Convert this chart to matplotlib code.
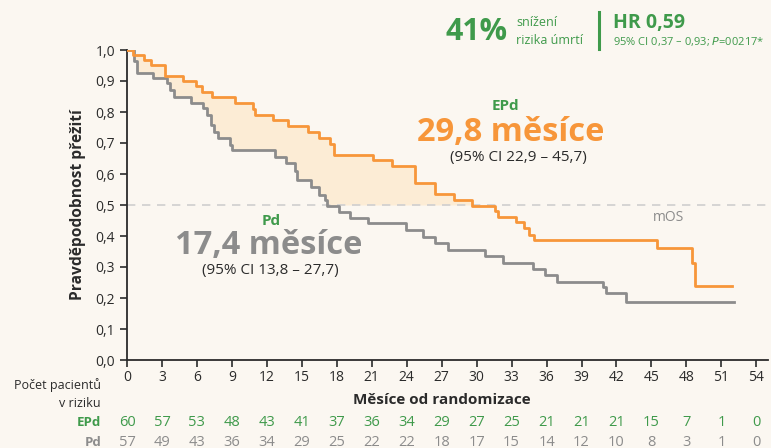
import numpy as np
import matplotlib.pyplot as plt

# Kaplan-Meier steps (month, survival)
epd_t = [0, 0.5, 1.5, 2.1, 3.3, 4.8, 5.9, 6.4, 7.3, 9.25, 10.8, 11.0, 12.5, 13.8,
         15.5, 16.5, 17.4, 17.8, 21.1, 22.7, 24.7, 26.4, 28.1, 29.6, 31.6, 31.8,
         33.4, 34.1, 34.5, 34.9, 45.5, 48.5, 48.7, 51.9]
epd_s = [1.0, 0.983, 0.967, 0.95, 0.917, 0.9, 0.883, 0.865, 0.847, 0.83, 0.81, 0.79,
         0.773, 0.755, 0.735, 0.717, 0.698, 0.661, 0.645, 0.627, 0.572, 0.535, 0.516,
         0.497, 0.48, 0.462, 0.446, 0.425, 0.403, 0.387, 0.36, 0.312, 0.24, 0.24]

pd_t = [0, 0.6, 0.9, 2.25, 3.4, 3.7, 4.0, 5.5, 6.5, 6.9, 7.2, 7.5, 7.8, 8.8, 9.0,
        12.7, 13.6, 14.4, 14.6, 15.8, 16.5, 17.0, 17.2, 18.2, 19.1, 20.7, 23.9, 25.4,
        26.4, 27.5, 30.7, 32.3, 34.8, 35.9, 36.9, 40.8, 41.1, 42.8, 52.1]
pd_s = [1.0, 0.965, 0.925, 0.909, 0.892, 0.871, 0.849, 0.83, 0.812, 0.79, 0.758,
        0.736, 0.715, 0.695, 0.677, 0.656, 0.634, 0.61, 0.58, 0.559, 0.532, 0.516,
        0.498, 0.478, 0.457, 0.441, 0.419, 0.398, 0.377, 0.355, 0.335, 0.314, 0.292,
        0.274, 0.253, 0.237, 0.215, 0.188, 0.188]

risk_months = list(range(0, 55, 3))
risk_epd = [60, 57, 53, 48, 43, 41, 37, 36, 34, 29, 27, 25, 21, 21, 21, 15, 7, 1, 0]
risk_pd = [57, 49, 43, 36, 34, 29, 25, 22, 22, 18, 17, 15, 14, 12, 10, 8, 3, 1, 0]

ORANGE = '#f7963a'
GRAY = '#8c8c8c'
GREEN = '#3f9a4b'
DARK = '#2b2b2b'
BG = '#fbf7f1'

plt.rcParams['font.family'] = ['Open Sans', 'DejaVu Sans']

fig = plt.figure(figsize=(7.71, 4.48), dpi=100, facecolor=BG)
ax = fig.add_axes([127 / 771, 1 - 360 / 448, 641 / 771, 310 / 448])
ax.set_facecolor('none')

# shaded gain above the median line
grid = np.linspace(0, 52, 4000)
so = np.array(epd_s)[np.searchsorted(epd_t, grid, side='right') - 1]
sp = np.array(pd_s)[np.searchsorted(pd_t, grid, side='right') - 1]
low = np.maximum(sp, 0.5)
ax.fill_between(grid, low, so, where=so > low, color='#fde9cc', alpha=0.75,
                lw=0, zorder=1)

ax.axhline(0.5, color='#cfcfcf', ls=(0, (5, 4)), lw=1.2, zorder=1)
ax.step(pd_t, pd_s, where='post', color=GRAY, lw=2.0, zorder=3)
ax.step(epd_t, epd_s, where='post', color=ORANGE, lw=2.0, zorder=4)

ax.set_xlim(0, 55)
ax.set_ylim(0, 1.0)
ax.set_xticks(risk_months)
ax.set_yticks(np.arange(0, 1.01, 0.1))
ax.set_yticklabels([f'{v:.1f}'.replace('.', ',') for v in np.arange(0, 1.01, 0.1)])
ax.tick_params(colors=DARK, labelsize=10, length=5, width=1.2, direction='out')
ax.tick_params(axis='x', pad=2)
for side in ['top', 'right']:
    ax.spines[side].set_visible(False)
for side in ['left', 'bottom']:
    ax.spines[side].set_color(DARK)
    ax.spines[side].set_linewidth(1.3)

ax.set_ylabel('Pravděpodobnost přežití', fontsize=11.2, fontweight='bold',
              color=DARK, labelpad=7)
ax.set_xlabel('Měsíce od randomizace', fontsize=11, fontweight='bold',
              color=DARK, labelpad=3)
ax.xaxis.set_label_coords(27 / 55, -0.105)

# curve annotations
ax.text(32.5, 0.818, 'EPd', color=GREEN, fontsize=11, fontweight='bold', ha='center', va='center')
ax.text(32.9, 0.733, '29,8 měsíce', color=ORANGE, fontsize=23.5, fontweight='bold',
        ha='center', va='center')
ax.text(33.6, 0.652, '(95% CI 22,9 – 45,7)', color=DARK, fontsize=11,
        ha='center', va='center')
ax.text(46.5, 0.46, 'mOS', color=GRAY, fontsize=10, ha='center', va='center')
ax.text(12.4, 0.447, 'Pd', color=GREEN, fontsize=11, fontweight='bold', ha='center', va='center')
ax.text(12.2, 0.37, '17,4 měsíce', color=GRAY, fontsize=23.5, fontweight='bold',
        ha='center', va='center')
ax.text(12.3, 0.29, '(95% CI 13,8 – 27,7)', color=DARK, fontsize=11,
        ha='center', va='center')

# header
fig.text(508 / 771, 1 - 32 / 448, '41%', color=GREEN, fontsize=22, fontweight='bold',
         ha='right', va='center')
fig.text(516 / 771, 1 - 22 / 448, 'snížení', color=GREEN, fontsize=9, va='center')
fig.text(516 / 771, 1 - 40 / 448, 'rizika úmrtí', color=GREEN, fontsize=9, va='center')
fig.add_artist(plt.Line2D([599 / 771, 599 / 771], [1 - 12 / 448, 1 - 49 / 448],
                          color=GREEN, lw=2.2))
fig.text(613 / 771, 1 - 23 / 448, 'HR 0,59', color=GREEN, fontsize=14,
         fontweight='bold', va='center')
fig.text(613 / 771, 1 - 41 / 448, r'95% CI 0,37 – 0,93; $\it{P}$=00217*', color=GREEN,
         fontsize=8, va='center')

# number at risk
fig.text(101 / 771, 1 - 385 / 448, 'Počet pacientů', color=DARK, fontsize=9,
         ha='right', va='center')
fig.text(101 / 771, 1 - 403 / 448, 'v riziku', color=DARK, fontsize=9,
         ha='right', va='center')
fig.text(101 / 771, 1 - 422 / 448, 'EPd', color=GREEN, fontsize=9.5, fontweight='bold',
         ha='right', va='center')
fig.text(101 / 771, 1 - 442 / 448, 'Pd', color=GRAY, fontsize=9.5, fontweight='bold',
         ha='right', va='center')
for m, a, b in zip(risk_months, risk_epd, risk_pd):
    ax.text(m, -62 / 310, str(a), color=GREEN, fontsize=10.5, ha='center', va='center',
            transform=ax.get_xaxis_transform(), clip_on=False)
    ax.text(m, -82 / 310, str(b), color=GRAY, fontsize=10.5, ha='center', va='center',
            transform=ax.get_xaxis_transform(), clip_on=False)

fig.savefig('out.png', dpi=100, facecolor=BG)
